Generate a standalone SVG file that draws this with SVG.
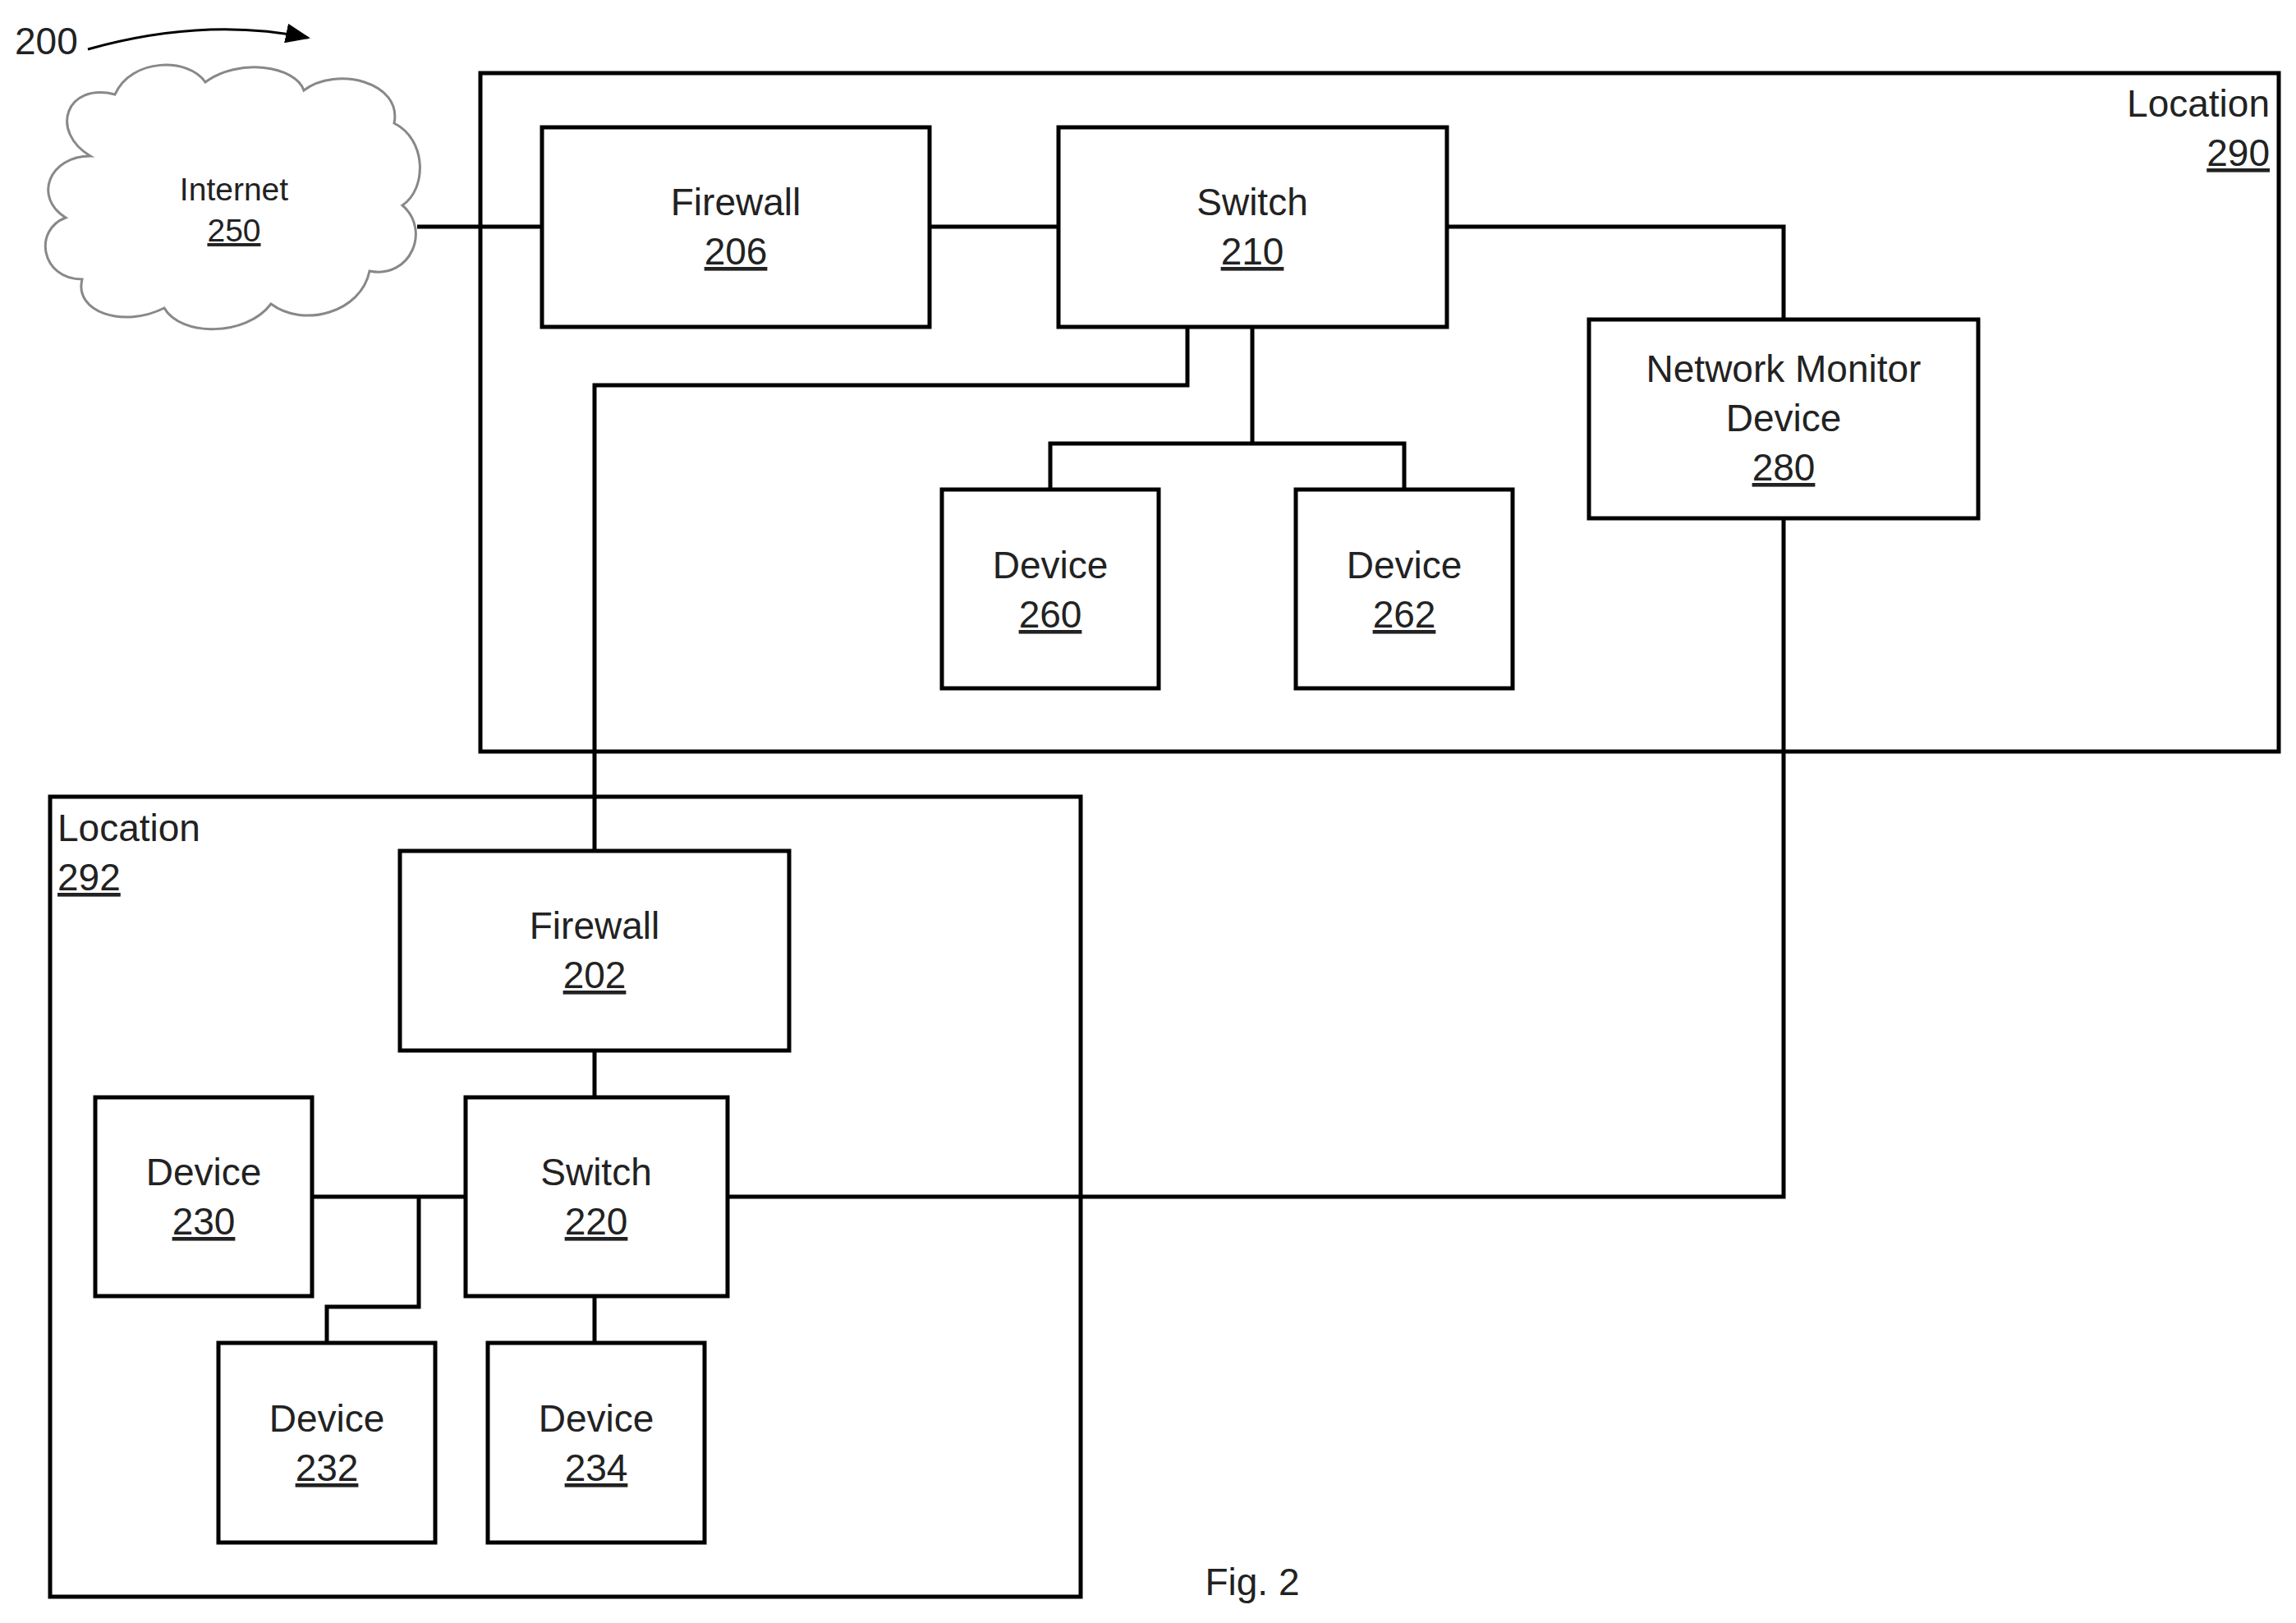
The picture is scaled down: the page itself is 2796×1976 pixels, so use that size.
<svg xmlns="http://www.w3.org/2000/svg" width="2796" height="1976" viewBox="0 0 2796 1976">
<defs>
<style>
.b{fill:#fff;stroke:#000;stroke-width:5}
.c{fill:none;stroke:#000;stroke-width:5}
text{font-family:"Liberation Sans","Open Sans",sans-serif;font-size:46px;fill:#222;text-anchor:middle}
.u{text-decoration:underline}
.r{text-anchor:end}
.l{text-anchor:start}
</style>
<marker id="ah" markerWidth="10" markerHeight="8" refX="9" refY="4" orient="auto" markerUnits="strokeWidth"><path d="M0,0 L10,4 L0,8 Z" fill="#000"/></marker>
</defs>
<rect width="2796" height="1976" fill="#fff"/>
<text class="l" x="18" y="66">200</text>
<path d="M107,60 Q250,20 375,46" fill="none" stroke="#000" stroke-width="3" marker-end="url(#ah)"/>
<g id="loc290"><rect class="b" x="585" y="89" width="2190" height="826"/><text class="r" x="2764" y="142">Location</text><text class="r u" x="2764" y="202">290</text></g>
<g id="loc292"><rect class="b" x="61" y="970" width="1255" height="974"/><text class="l" x="70" y="1024">Location</text><text class="l u" x="70" y="1084">292</text></g>
<g id="conn" class="c">
<path class="c" d="M508,276H660M1132,276H1289M1762,276H2172V389M1446,398V469H724V1036M1525,398V540M1279,596V540H1710V596M2172,631V1457H886M724,1279V1336M380,1457H567M510,1457V1591H398V1635M724,1578V1635"/>
</g>
<g id="internet">
<path d="M110,190 C60,160 80,100 140,115 C160,70 230,70 250,100 C290,70 360,80 370,110 C410,80 490,100 480,150 C520,170 520,230 490,250 C525,280 500,340 450,330 C440,380 370,400 330,370 C300,410 220,410 200,375 C150,400 90,380 100,340 C50,340 40,280 80,265 C40,240 60,190 110,190 Z" fill="#fff" stroke="#888" stroke-width="3"/>
<text x="285" y="244" style="font-size:39px">Internet</text><text class="u" x="285" y="294" style="font-size:39px">250</text></g>
<g id="fw206"><rect class="b" x="660" y="155" width="472" height="243"/><text x="896" y="262">Firewall</text><text class="u" x="896" y="322">206</text></g>
<g id="sw210"><rect class="b" x="1289" y="155" width="473" height="243"/><text x="1525" y="262">Switch</text><text class="u" x="1525" y="322">210</text></g>
<g id="nmd280"><rect class="b" x="1935" y="389" width="474" height="242"/><text x="2172" y="465">Network Monitor</text><text x="2172" y="525">Device</text><text class="u" x="2172" y="585">280</text></g>
<g id="d260"><rect class="b" x="1147" y="596" width="264" height="242"/><text x="1279" y="704">Device</text><text class="u" x="1279" y="764">260</text></g>
<g id="d262"><rect class="b" x="1578" y="596" width="264" height="242"/><text x="1710" y="704">Device</text><text class="u" x="1710" y="764">262</text></g>
<g id="fw202"><rect class="b" x="487" y="1036" width="474" height="243"/><text x="724" y="1143">Firewall</text><text class="u" x="724" y="1203">202</text></g>
<g id="sw220"><rect class="b" x="567" y="1336" width="319" height="242"/><text x="726" y="1443">Switch</text><text class="u" x="726" y="1503">220</text></g>
<g id="d230"><rect class="b" x="116" y="1336" width="264" height="242"/><text x="248" y="1443">Device</text><text class="u" x="248" y="1503">230</text></g>
<g id="d232"><rect class="b" x="266" y="1635" width="264" height="243"/><text x="398" y="1743">Device</text><text class="u" x="398" y="1803">232</text></g>
<g id="d234"><rect class="b" x="594" y="1635" width="264" height="243"/><text x="726" y="1743">Device</text><text class="u" x="726" y="1803">234</text></g>
<text x="1525" y="1942">Fig. 2</text>
</svg>
